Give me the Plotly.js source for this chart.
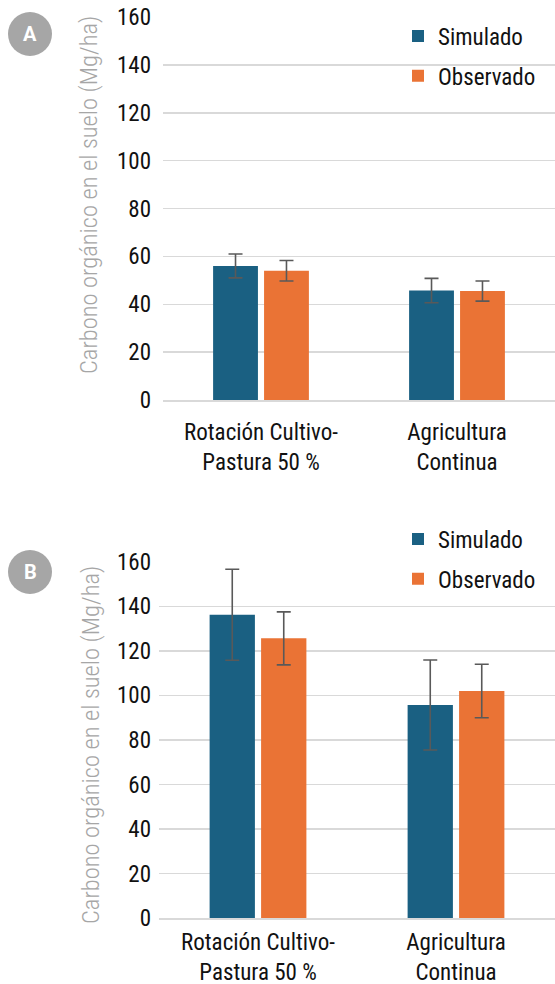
<!DOCTYPE html>
<html>
<head>
<meta charset="utf-8">
<script src="https://cdn.plot.ly/plotly-3.0.1.min.js"></script>
<style>html,body{margin:0;padding:0;background:#fff}#chart{width:555px;height:984px}</style>
</head>
<body>
<div id="chart"></div>
<script>
const categories = ["Rotación Cultivo-<br>Pastura 50 %", "Agricultura<br>Continua"];
const seriesNames = ["Simulado", "Observado"];
// Panel A
const simA = [56, 45.7];
const simAErr = [5, 5.1];
const obsA = [54, 45.5];
const obsAErr = [4.3, 4.2];
// Panel B
const simB = [136.2, 95.7];
const simBErr = [20.4, 20.2];
const obsB = [125.6, 102];
const obsBErr = [11.9, 12];
const yTicks = [0, 20, 40, 60, 80, 100, 120, 140, 160];
const yTitle = "Carbono orgánico en el suelo (Mg/ha)";
const panelLabels = ["A", "B"];

const FONT = "Roboto Condensed";
const BLUE = "#1a6082";
const ORANGE = "#ea7335";
const ERR = {type: "data", visible: true, color: "#595959", thickness: 1.6, width: 7};

function bar(y, err, name, color, xa, ya, leg, grp) {
  return {
    type: "bar", x: categories, y: y, name: name,
    marker: {color: color},
    error_y: Object.assign({array: err}, ERR),
    xaxis: xa, yaxis: ya, legend: leg, legendgroup: grp,
    hoverinfo: "skip"
  };
}

const data = [
  bar(simA, simAErr, seriesNames[0], BLUE, "x", "y", "legend", "a1"),
  bar(obsA, obsAErr, seriesNames[1], ORANGE, "x", "y", "legend", "a2"),
  bar(simB, simBErr, seriesNames[0], BLUE, "x2", "y2", "legend2", "b1"),
  bar(obsB, obsBErr, seriesNames[1], ORANGE, "x2", "y2", "legend2", "b2")
];

const W = 555, H = 984;
const py = v => 1 - v / H;
const px = v => v / W;

const yax = (dom) => ({
  domain: dom, range: [0, 160], tickvals: yTicks, ticktext: yTicks.map(String),
  showgrid: true, gridcolor: "#d9d9d9", gridwidth: 1.5,
  zeroline: false, showline: false, ticks: "", ticklabelstandoff: 11,
  tickfont: {family: FONT, size: 23, color: "#111"}, fixedrange: true
});
const xax = (dom, anchor, standoff) => ({
  domain: dom, anchor: anchor, showgrid: false, zeroline: false,
  showline: true, linecolor: "#d9d9d9", linewidth: 1.5, ticks: "",
  ticklabelstandoff: standoff,
  tickfont: {family: FONT, size: 23, color: "#111"}, fixedrange: true
});
const legendFont = {family: FONT, size: 23, color: "#111"};

const layout = {
  width: W, height: H, margin: {l: 0, r: 0, t: 0, b: 0},
  paper_bgcolor: "#fff", plot_bgcolor: "#fff",
  barmode: "group", bargap: 0.48, bargroupgap: 0.12,
  showlegend: true,
  xaxis: xax([px(163), 1], "y", 11),
  yaxis: yax([py(400), py(17)]),
  xaxis2: xax([px(159), 1], "y2", 3),
  yaxis2: yax([py(918.3), py(561.7)]),
  legend: {x: px(398), y: py(14.5), xanchor: "left", yanchor: "top", bgcolor: "rgba(0,0,0,0)",
           font: legendFont, tracegroupgap: 7, traceorder: "grouped"},
  legend2: {x: px(398), y: py(517.5), xanchor: "left", yanchor: "top", bgcolor: "rgba(0,0,0,0)",
           font: legendFont, tracegroupgap: 7, traceorder: "grouped"},
  shapes: [
    {type: "circle", xref: "paper", yref: "paper", x0: px(8), x1: px(52), y0: py(56), y1: py(12),
     fillcolor: "#a6a6a6", line: {width: 0}},
    {type: "circle", xref: "paper", yref: "paper", x0: px(8), x1: px(52), y0: py(594), y1: py(550),
     fillcolor: "#a6a6a6", line: {width: 0}}
  ],
  annotations: [
    {text: "<b>" + panelLabels[0] + "</b>", xref: "paper", yref: "paper", x: px(30), y: py(34),
     xanchor: "center", yanchor: "middle",
     showarrow: false, font: {family: "Roboto", size: 20, color: "#fff"}},
    {text: "<b>" + panelLabels[1] + "</b>", xref: "paper", yref: "paper", x: px(30), y: py(572),
     xanchor: "center", yanchor: "middle",
     showarrow: false, font: {family: "Roboto", size: 20, color: "#fff"}},
    {text: yTitle, xref: "paper", yref: "paper", x: px(88), y: py(195), textangle: -90,
     xanchor: "center", yanchor: "middle",
     showarrow: false, font: {family: FONT, size: 24.5, weight: 300, color: "#a6a6a6"}},
    {text: yTitle, xref: "paper", yref: "paper", x: px(90), y: py(745), textangle: -90,
     xanchor: "center", yanchor: "middle",
     showarrow: false, font: {family: FONT, size: 24.5, weight: 300, color: "#a6a6a6"}}
  ]
};

Plotly.newPlot("chart", data, layout, {displayModeBar: false, staticPlot: true});
</script>
</body>
</html>
